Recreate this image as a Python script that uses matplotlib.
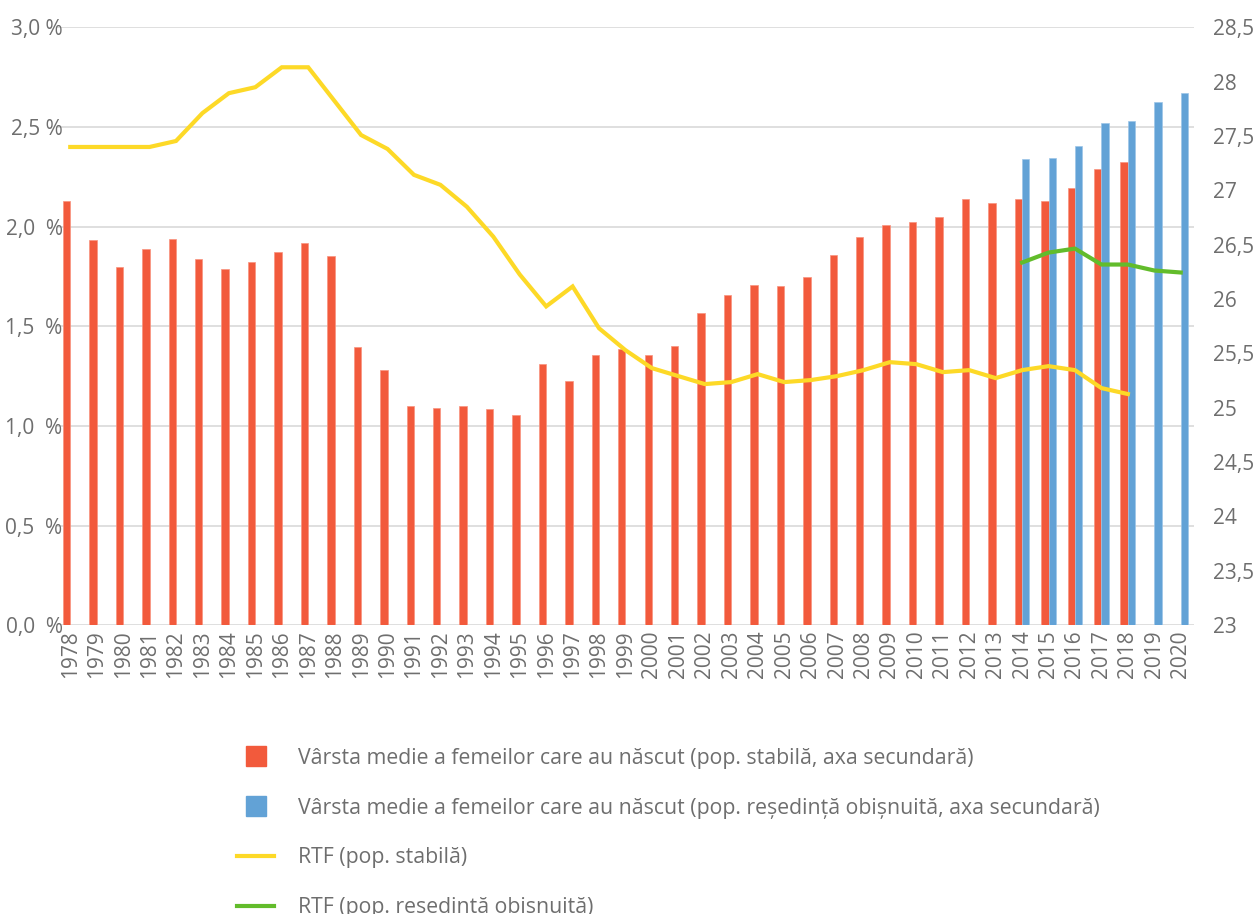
import numpy as np
import matplotlib
matplotlib.use("Agg")
import matplotlib.pyplot as plt
from matplotlib.lines import Line2D

plt.rcParams['font.family'] = ['Open Sans', 'DejaVu Sans']

years = list(range(1978, 2021))

# varsta medie (pop. stabila) 1978-2018
age_stable = [26.90, 26.54, 26.30, 26.46, 26.55, 26.37, 26.28, 26.34, 26.43, 26.52,
              26.40, 25.56, 25.35, 25.02, 25.00, 25.02, 24.99, 24.93, 25.40, 25.25,
              25.49, 25.54, 25.49, 25.57, 25.87, 26.04, 26.13, 26.12, 26.20, 26.41,
              26.57, 26.68, 26.71, 26.76, 26.92, 26.88, 26.92, 26.90, 27.02, 27.20,
              27.26]
# varsta medie (pop. resedinta obisnuita) 2014-2020
age_resid = [27.29, 27.30, 27.41, 27.62, 27.64, 27.81, 27.90]

# RTF (pop. stabila) 1978-2018
rtf_stable = [2.40, 2.40, 2.40, 2.40, 2.43, 2.57, 2.67, 2.70, 2.80, 2.80,
              2.63, 2.46, 2.39, 2.26, 2.21, 2.10, 1.95, 1.76, 1.60, 1.70,
              1.49, 1.38, 1.29, 1.25, 1.21, 1.22, 1.26, 1.22, 1.23, 1.25,
              1.28, 1.32, 1.31, 1.27, 1.28, 1.24, 1.28, 1.30, 1.28, 1.19,
              1.16]
# RTF (pop. resedinta obisnuita) 2014-2020
rtf_resid = [1.82, 1.87, 1.89, 1.81, 1.81, 1.78, 1.77]

RED = '#F25A3C'
BLUE = '#62A2D6'
YELLOW = '#FDD927'
GREEN = '#62BC2B'
GRAY = '#6E6E6E'
GRID = '#D9D9D9'

x_all = np.arange(len(years))
x_stable = x_all[:len(age_stable)]
x_resid = x_all[years.index(2014):]
w = 0.28

fig = plt.figure(figsize=(12.56, 9.14), dpi=100)
ax = fig.add_axes([0.0454, 0.316, 0.9052, 0.654])
ax2 = ax.twinx()

ax2.bar(x_stable - w / 2, age_stable, width=w, color=RED, edgecolor='#F8937E', linewidth=0.5)
ax2.bar(x_resid + w / 2, age_resid, width=w, color=BLUE, edgecolor='#9CC5E8', linewidth=0.5)
ax2.set_ylim(23, 28.5)

ax.set_zorder(ax2.get_zorder() + 1)
ax.patch.set_visible(False)
ax.plot(x_stable, rtf_stable, color=YELLOW, lw=3, solid_joinstyle='miter')
ax.plot(x_resid, rtf_resid, color=GREEN, lw=3)
ax.set_ylim(0, 3.0)
ax.set_xlim(-0.5, len(years) - 0.5)

lt = np.arange(0, 3.01, 0.5)
# grid lines follow the left axis, drawn on the bar axis so they sit behind bars
for v in lt:
    ax2.axhline(23 + v * 5.5 / 3.0, color=GRID, lw=1.2, zorder=0)

ax.set_yticks(lt)
ax.set_yticklabels([('%.1f' % v).replace('.', ',') + (' %' if v >= 2.5 else '  %') for v in lt])
rt = np.arange(23, 28.51, 0.5)
ax2.set_yticks(rt)
ax2.set_yticklabels([('%g' % v).replace('.', ',') for v in rt])

ax.set_xticks(x_all)
ax.set_xticklabels([str(y) for y in years], rotation=90)

for a in (ax, ax2):
    for s in a.spines.values():
        s.set_visible(False)
    a.tick_params(length=0, colors=GRAY, labelsize=15)
ax.tick_params(axis='y', pad=-4)
ax.tick_params(axis='x', pad=4)
ax2.tick_params(axis='y', pad=14)

handles = [
    Line2D([], [], ls='none', marker='s', markersize=14, color=RED),
    Line2D([], [], ls='none', marker='s', markersize=14, color=BLUE),
    Line2D([], [], color=YELLOW, lw=3),
    Line2D([], [], color=GREEN, lw=3),
]
labels = [
    'Vârsta medie a femeilor care au născut (pop. stabilă, axa secundară)',
    'Vârsta medie a femeilor care au născut (pop. reședință obișnuită, axa secundară)',
    'RTF (pop. stabilă)',
    'RTF (pop. reședință obișnuită)',
]
fig.legend(handles, labels, loc='upper left', bbox_to_anchor=(0.1887, 0.182),
           frameon=False, fontsize=15.3, labelcolor=GRAY, handlelength=1.75,
           handletextpad=1.1, labelspacing=1.36, borderpad=0, borderaxespad=0)

fig.savefig('out.png', dpi=100)
